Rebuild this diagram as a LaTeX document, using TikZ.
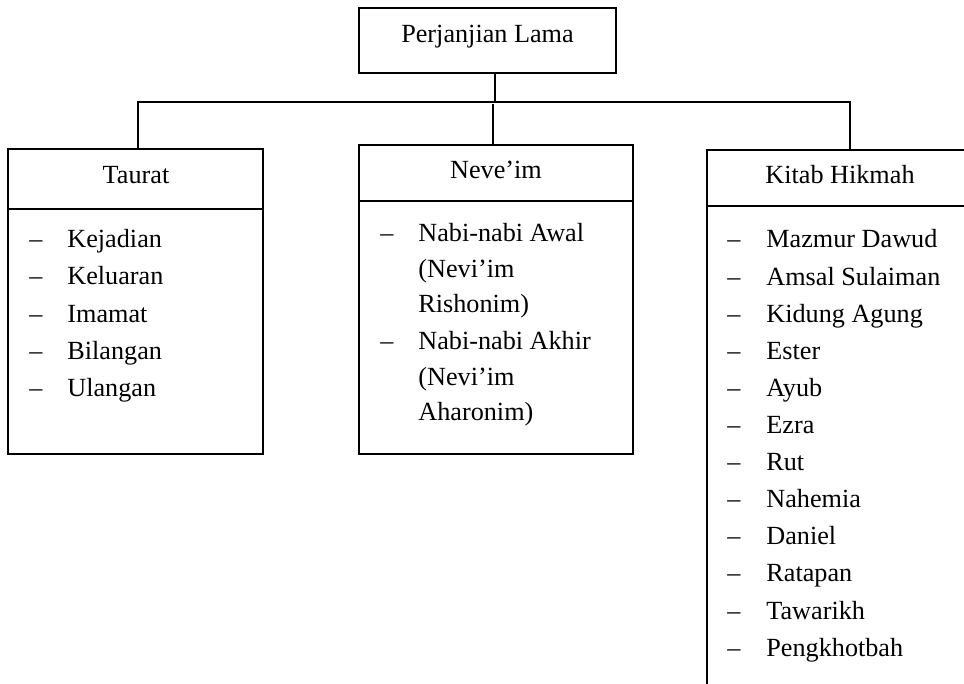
\documentclass[tikz,border=0pt]{standalone}
\usepackage{fontspec}
\setmainfont{Liberation Serif}
\begin{document}
\begin{tikzpicture}[x=0.5pt,y=-0.5pt,
  box/.style={draw, line width=0.65pt, inner sep=0pt, outer sep=0pt, anchor=north west},
  link/.style={draw, line width=0.65pt},
  txt/.style={anchor=base west, inner sep=0pt, font=\fontsize{13.1}{15}\selectfont},
  ttl/.style={anchor=base, inner sep=0pt, font=\fontsize{13.1}{15}\selectfont}]
\useasboundingbox (0,0) rectangle (964,684);
\clip (0,0) rectangle (964,684);
% boxes
\node[box, minimum width=128.5pt, minimum height=32.5pt] (top) at (359,8) {};
\node[box, minimum width=127.5pt, minimum height=30pt] (taurathead) at (8,149) {};
\node[box, minimum width=127.5pt, minimum height=122.5pt] (tauratbody) at (8,209) {};
\node[box, minimum width=137pt, minimum height=28pt] (nevhead) at (359,145) {};
\node[box, minimum width=137pt, minimum height=126.5pt] (nevbody) at (359,201) {};
\node[box, minimum width=133pt, minimum height=28pt] (kitabhead) at (707,150) {};
\node[box, minimum width=133pt, minimum height=250pt] (kitabbody) at (707,206) {};
% titles
\node[ttl] (toplbl) at (487.5,43) {Perjanjian Lama};
\node[ttl] (tauratlbl) at (136,184) {Taurat};
\node[ttl] (nevlbl) at (496,179) {Neve’im};
\node[ttl] (kitablbl) at (840,184) {Kitab Hikmah};
% connectors
\coordinate (busL) at (138,102);
\coordinate (busM) at (495,102);
\coordinate (busR) at (850,102);
\coordinate (nevj) at (493,104);
\draw[link] (top.south -| busM) -- (busM);
\draw[link] (taurathead.north -| busL) -- (busL) -- (busR) -- (kitabhead.north -| busR);
\draw[link] (nevj) -- (nevhead.north -| nevj);
% Taurat items
\foreach \t [count=\i] in {Kejadian,Keluaran,Imamat,Bilangan,Ulangan}{
  \node[txt] (td\i) at (29,{248+37*(\i-1)}) {–};
  \node[txt] (ti\i) at (67,{248+37*(\i-1)}) {\t};
}
% Neve'im items
\node[txt] (nd1) at (380,242) {–};
\node[txt] (ni1) at (418,242) {Nabi-nabi Awal};
\node[txt] (ni2) at (418,278) {(Nevi’im};
\node[txt] (ni3) at (418,313) {Rishonim)};
\node[txt] (nd4) at (380,350) {–};
\node[txt] (ni4) at (418,350) {Nabi-nabi Akhir};
\node[txt] (ni5) at (418,386) {(Nevi’im};
\node[txt] (ni6) at (418,420) {Aharonim)};
% Kitab Hikmah items
\foreach \t [count=\i] in {Mazmur Dawud,Amsal Sulaiman,Kidung Agung,Ester,Ayub,Ezra,Rut,Nahemia,Daniel,Ratapan,Tawarikh,Pengkhotbah}{
  \node[txt] (kd\i) at (727,{248+37.1*(\i-1)}) {–};
  \node[txt] (ki\i) at (766,{248+37.1*(\i-1)}) {\t};
}
\end{tikzpicture}
\end{document}
